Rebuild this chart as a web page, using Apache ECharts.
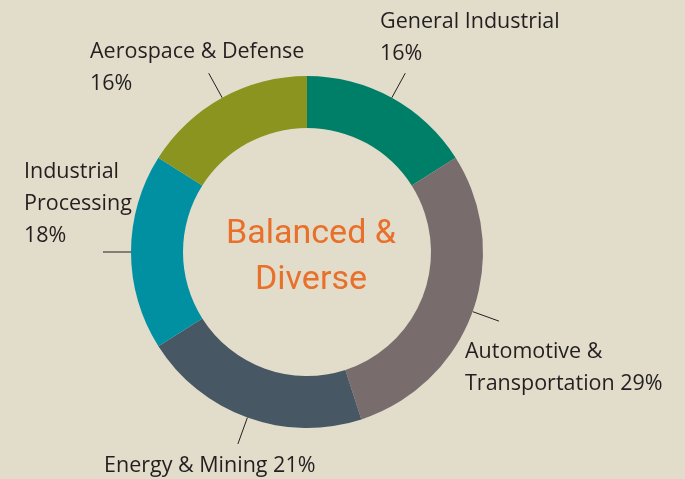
<!DOCTYPE html>
<html>
<head>
<meta charset="utf-8">
<script src="https://cdn.jsdelivr.net/npm/echarts@6/dist/echarts.min.js"></script>
<style>
  html, body { margin: 0; padding: 0; background: #e2dccb; }
  #chart { width: 685px; height: 479px; }
</style>
</head>
<body>
<div id="chart"></div>
<script>
  // 各业务板块占比（从顶部开始，顺时针）
  var segmentKeys = ['General Industrial', 'Automotive & Transportation', 'Energy & Mining', 'Industrial Processing', 'Aerospace & Defense']
  var segmentValues = [16, 29, 21, 18, 16]
  var segmentColors = ['#007f68', '#786c6c', '#475764', '#0090a1', '#8a941f']
  var labelTexts = ['General Industrial\n16%', 'Automotive &\nTransportation 29%', 'Energy & Mining 21%', 'Industrial\nProcessing\n18%', 'Aerospace & Defense\n16%']
  // label anchor (left, top) for each slice
  var labelSpots = [[380, 6], [465, 336], [104, 450], [24, 156], [90, 36]]

  var chart = echarts.init(document.getElementById('chart'))

  var seriesData = []
  for (var i = 0; i < segmentKeys.length; i++) {
    seriesData.push({
      name: segmentKeys[i],
      value: segmentValues[i],
      itemStyle: { color: segmentColors[i] },
      label: { formatter: labelTexts[i] }
    })
  }

  var option = {
    backgroundColor: '#e2dccb',
    animation: false,
    title: {
      text: 'Balanced &\nDiverse',
      left: 306,
      top: 206,
      textAlign: 'center',
      textStyle: {
        color: '#e8702a',
        fontFamily: 'Roboto',
        fontWeight: 'normal',
        fontSize: 34,
        lineHeight: 46
      }
    },
    series: [
      {
        type: 'pie',
        center: [307, 252],
        radius: [124, 176],
        startAngle: 90,
        clockwise: true,
        avoidLabelOverlap: false,
        data: seriesData,
        label: {
          show: true,
          position: 'outside',
          color: '#231f20',
          fontFamily: 'Open Sans',
          fontSize: 21.5,
          lineHeight: 32
        },
        labelLine: {
          show: true,
          length: 28,
          length2: 0,
          lineStyle: { color: '#231f20', width: 1 }
        },
        labelLayout: function (params) {
          var spot = labelSpots[params.dataIndex]
          return {
            x: spot[0],
            y: spot[1],
            align: 'left',
            verticalAlign: 'top',
            labelLinePoints: params.labelLinePoints
          }
        }
      }
    ]
  }

  chart.setOption(option)
</script>
</body>
</html>
